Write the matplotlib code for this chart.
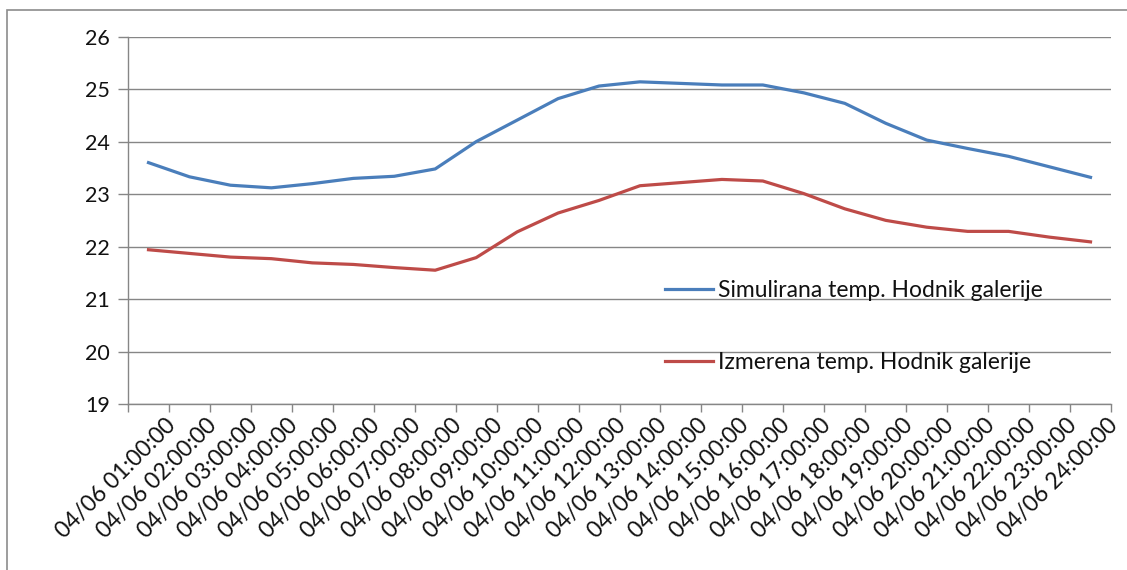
import matplotlib.pyplot as plt
from matplotlib.patches import Rectangle
from matplotlib.transforms import ScaledTranslation

plt.rcParams['font.family'] = ['Lato', 'DejaVu Sans']

# satne vrijednosti za 04/06
sati = ['04/06 %02d:00:00' % h for h in range(1, 25)]
simulirana = [23.60, 23.33, 23.17, 23.12, 23.20, 23.30, 23.34, 23.48,
              24.00, 24.41, 24.82, 25.06, 25.14, 25.11, 25.08, 25.08,
              24.93, 24.73, 24.35, 24.03, 23.87, 23.72, 23.52, 23.32]
izmerena = [21.94, 21.87, 21.80, 21.77, 21.69, 21.66, 21.60, 21.55,
            21.79, 22.28, 22.64, 22.88, 23.16, 23.22, 23.28, 23.25,
            23.01, 22.72, 22.50, 22.37, 22.29, 22.29, 22.18, 22.09]

fig = plt.figure(figsize=(11.27, 5.70), dpi=100)
ax = fig.add_axes([0.1136, 0.2912, 0.8722, 0.6444])

x = list(range(len(sati)))
ax.plot(x, simulirana, color='#4A7EBB', lw=2.3, label='Simulirana temp. Hodnik galerije')
ax.plot(x, izmerena, color='#BE4B48', lw=2.3, label='Izmerena temp. Hodnik galerije')

ax.set_xlim(-0.5, len(sati) - 0.5)
ax.set_ylim(19, 26)
ax.set_yticks(range(19, 27))
ax.grid(axis='y', color='#868686', lw=1.0)
ax.set_axisbelow(True)

# kvacice izmedju kategorija, natpisi na sredini
ax.set_xticks([i - 0.5 for i in range(len(sati) + 1)])
ax.set_xticklabels([])
ax.set_xticks(x, minor=True)
ax.set_xticklabels(sati, minor=True, rotation=45, ha='right', va='top',
                   rotation_mode='anchor', fontsize=16.5, color='#111111')
ax.tick_params(axis='x', which='minor', length=0, pad=2)
ax.tick_params(axis='x', which='major', length=6, color='#868686', width=1)
ax.tick_params(axis='y', length=7, color='#868686', width=1, labelsize=15.5,
               labelcolor='#111111', pad=6)
pomak = ScaledTranslation(16/100, -8/100, fig.dpi_scale_trans)
for lab in ax.get_xticklabels(minor=True):
    lab.set_transform(lab.get_transform() + pomak)

for s in ['top', 'right']:
    ax.spines[s].set_visible(False)
for s in ['left', 'bottom']:
    ax.spines[s].set_color('#868686')
    ax.spines[s].set_linewidth(1)

leg = ax.legend(loc='upper left', bbox_to_anchor=(0.590, 0.509), bbox_transform=fig.transFigure,
                frameon=False, fontsize=16.5, handlelength=2.1, handletextpad=0.2,
                labelspacing=2.25, borderpad=0, borderaxespad=0)
for t in leg.get_texts():
    t.set_color('#111111')

# okvir oko grafikona
fig.patches.append(Rectangle((7/1127, -0.1), 1.2, 1 - 10/570 + 0.1, transform=fig.transFigure,
                             fill=False, edgecolor='#8c8c8c', lw=1.2))

fig.savefig('out.png', dpi=100)
